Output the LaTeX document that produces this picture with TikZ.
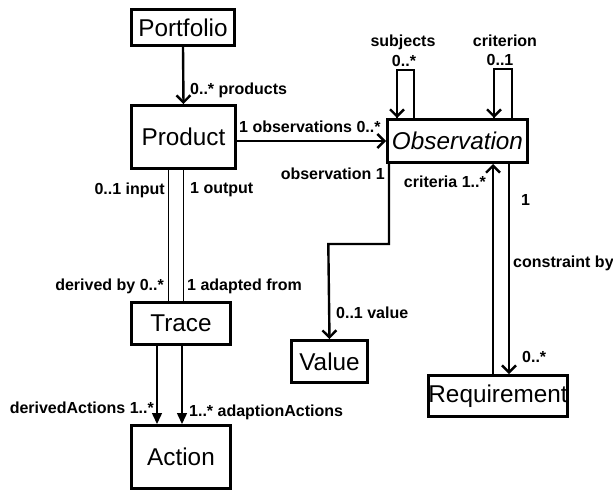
\documentclass[tikz,border=0pt]{standalone}
\usepackage{fontspec}
\setmainfont{Liberation Sans}
\usetikzlibrary{arrows.meta}
\begin{document}
\begin{tikzpicture}[x=1pt,y=-1pt,
  box/.style={draw,line width=2.6pt,inner sep=0pt,align=center,
    font=\fontsize{24.3}{28}\selectfont},
  lbl/.style={font=\fontsize{16}{18}\selectfont\bfseries,inner sep=0pt},
  assoc/.style={line width=2.4pt,-{Straight Barb[length=7pt,width=14pt,line width=2.4pt]}},
  plain/.style={line width=2.4pt},
  thin/.style={line width=1pt},
  comp/.style={line width=1.5pt,-{Triangle[length=11pt,width=10pt]}}]
\useasboundingbox (0,0) rectangle (613,493);
\fill[white] (0,0) rectangle (613,493);
% nodes
\node[box,minimum width=103.4pt,minimum height=36.4pt] (portfolio) at (183,27.5) {Portfolio};
\node[box,minimum width=104.4pt,minimum height=63.4pt] (product) at (183.5,137) {Product};
\node[box,minimum width=140.4pt,minimum height=43.4pt] (observation) at (457.5,141) {\itshape Observation};
\node[box,minimum width=99.4pt,minimum height=42.4pt] (trace) at (181,323.5) {Trace};
\node[box,minimum width=99.4pt,minimum height=63.4pt] (action) at (181,457) {Action};
\node[box,minimum width=76.4pt,minimum height=42.4pt] (value) at (329.5,361.5) {Value};
\node[box,minimum width=139.4pt,minimum height=41.4pt] (requirement) at (498,396) {Requirement};
% coordinates
\coordinate (subjTop1) at (414,70);
\coordinate (subjTop2) at (397,70);
\coordinate (critTop1) at (512,69);
\coordinate (critTop2) at (494,69);
\coordinate (valBend1) at (389,244);
\coordinate (valBend2) at (328.3,244);
% edges
\draw[assoc] (portfolio.south) -- (product.north);
\node[lbl,anchor=west] (lprod) at (190,90) {0..* products};
\draw[assoc] (product.east |- observation.west) -- (observation.west);
\node[lbl,anchor=west] (lobs) at (239,127) {1 observations 0..*};
\draw[thin] (product.south -| 168,0) -- (trace.north -| 168,0);
\draw[thin] (product.south -| 183,0) -- (trace.north -| 183,0);
\node[lbl,anchor=east] (linput) at (165,190) {0..1 input};
\node[lbl,anchor=west] (loutput) at (190,190) {1 output};
\node[lbl,anchor=east] (lderby) at (164,286) {derived by 0..*};
\node[lbl,anchor=west] (ladapt) at (187,286) {1 adapted from};
\draw[comp] (trace.south -| 157,0) -- (action.north -| 157,0);
\draw[comp] (trace.south -| 182,0) -- (action.north -| 182,0);
\node[lbl,anchor=east] (lda) at (154,408) {derivedActions 1..*};
\node[lbl,anchor=west] (laa) at (189,412) {1..* adaptionActions};
% self loops
\draw[plain,line join=miter] (observation.north -| subjTop1) -- (subjTop1) -- (subjTop2) -- (subjTop2 |- observation.north);
\draw[assoc] (subjTop2) -- (subjTop2 |- observation.north);
\node[lbl] (lsubj) at (403,42) {subjects};
\node[lbl] (lsubjm) at (404,61) {0..*};
\draw[plain,line join=miter] (observation.north -| critTop1) -- (critTop1) -- (critTop2) -- (critTop2 |- observation.north);
\draw[assoc] (critTop2) -- (critTop2 |- observation.north);
\node[lbl] (lcrit) at (505,41) {criterion};
\node[lbl] (lcritm) at (500,60) {0..1};
% observation -> value
\draw[assoc,line join=miter] (observation.south -| valBend1) -- (valBend1) -- (valBend2) -- (value.north);
\node[lbl,anchor=east] (lobs1) at (385,174) {observation 1};
\node[lbl,anchor=west] (lval) at (336,313) {0..1 value};
% requirement <-> observation
\draw[assoc] (requirement.north -| 493,0) -- (observation.south -| 493,0);
\node[lbl,anchor=east] (lcrit2) at (486,182) {criteria 1..*};
\draw[assoc] (observation.south -| 509,0) -- (requirement.north -| 509,0);
\node[lbl,anchor=west] (lone) at (521,200) {1};
\node[lbl,anchor=west] (lcons) at (513,263) {constraint by};
\node[lbl,anchor=west] (lreqm) at (522,357) {0..*};
\end{tikzpicture}
\end{document}
